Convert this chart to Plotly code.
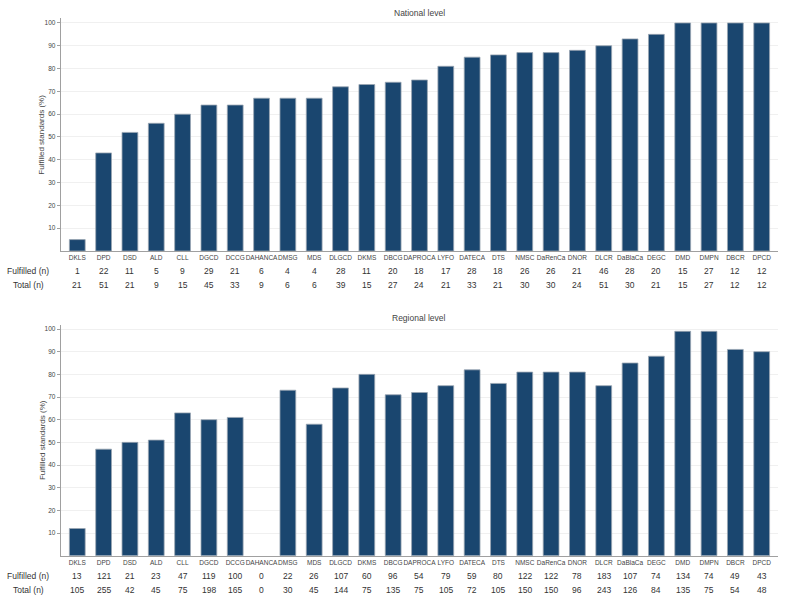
import plotly.graph_objects as go

categories = ["DKLS", "DPD", "DSD", "ALD", "CLL", "DGCD", "DCCG", "DAHANCA", "DMSG", "MDS",
              "DLGCD", "DKMS", "DBCG", "DAPROCA", "LYFO", "DATECA", "DTS", "NMSC", "DaRenCa",
              "DNOR", "DLCR", "DaBlaCa", "DEGC", "DMD", "DMPN", "DBCR", "DPCD"]

national_pct = [5, 43, 52, 56, 60, 64, 64, 67, 67, 67, 72, 73, 74, 75, 81, 85, 86, 87, 87,
                88, 90, 93, 95, 100, 100, 100, 100]
national_fulfilled = [1, 22, 11, 5, 9, 29, 21, 6, 4, 4, 28, 11, 20, 18, 17, 28, 18, 26, 26,
                      21, 46, 28, 20, 15, 27, 12, 12]
national_total = [21, 51, 21, 9, 15, 45, 33, 9, 6, 6, 39, 15, 27, 24, 21, 33, 21, 30, 30,
                  24, 51, 30, 21, 15, 27, 12, 12]

regional_pct = [12, 47, 50, 51, 63, 60, 61, 0, 73, 58, 74, 80, 71, 72, 75, 82, 76, 81, 81,
                81, 75, 85, 88, 99, 99, 91, 90]
regional_fulfilled = [13, 121, 21, 23, 47, 119, 100, 0, 22, 26, 107, 60, 96, 54, 79, 59, 80,
                      122, 122, 78, 183, 107, 74, 134, 74, 49, 43]
regional_total = [105, 255, 42, 45, 75, 198, 165, 0, 30, 45, 144, 75, 135, 75, 105, 72, 105,
                  150, 150, 96, 243, 126, 84, 135, 75, 54, 48]

yticks = [10, 20, 30, 40, 50, 60, 70, 80, 90, 100]

W, H = 792, 605
BAR = "#1a466f"
OUTLINE = "#9aa6b2"
FONT = "Liberation Sans, Arial, sans-serif"
TXT = "#444444"

def py(px):
    return (H - px) / H

def outline_widths(vals):
    return [0.8 if v > 0 else 0 for v in vals]

fig = go.Figure()
fig.add_trace(go.Bar(x=categories, y=national_pct, xaxis="x", yaxis="y",
                     marker=dict(color=BAR, line=dict(color=OUTLINE, width=outline_widths(national_pct))),
                     width=0.6, showlegend=False, hoverinfo="skip"))
fig.add_trace(go.Bar(x=categories, y=regional_pct, xaxis="x2", yaxis="y2",
                     marker=dict(color=BAR, line=dict(color=OUTLINE, width=outline_widths(regional_pct))),
                     width=0.6, showlegend=False, hoverinfo="skip"))

xdom = [60.7 / W, 778 / W]
axcommon = dict(showline=True, linecolor="#a0a0a0", linewidth=1, automargin=False)
xcommon = dict(axcommon, type="category", range=[-0.63, 26.62], ticks="", tickangle=0,
               tickfont=dict(size=6.5, color=TXT, family=FONT), domain=xdom,
               showgrid=False)
ycommon = dict(axcommon, range=[0, 102], tickvals=yticks, ticks="outside", ticklen=3,
               tickcolor="#a0a0a0", tickfont=dict(size=6.5, color=TXT, family=FONT),
               showgrid=True, gridcolor="#f0f0f0", gridwidth=1, zeroline=False)

nat_dom = [py(251), py(18.4)]
reg_dom = [py(555.7), py(324.5)]

fig.update_layout(
    width=W, height=H, margin=dict(l=0, r=0, t=0, b=0),
    plot_bgcolor="white", paper_bgcolor="white",
    xaxis=dict(xcommon, anchor="y"),
    yaxis=dict(ycommon, anchor="x", domain=nat_dom),
    xaxis2=dict(xcommon, anchor="y2"),
    yaxis2=dict(ycommon, anchor="x2", domain=reg_dom),
    font=dict(family=FONT),
)

ann = []
cx = (xdom[0] + xdom[1]) / 2
for text, ypx in [("National level", 13), ("Regional level", 318)]:
    ann.append(dict(text=text, x=cx, y=py(ypx), xref="paper", yref="paper",
                    xanchor="center", yanchor="middle", showarrow=False,
                    font=dict(size=8.5, color=TXT, family=FONT)))

for dom in (nat_dom, reg_dom):
    ann.append(dict(text="Fulfilled standards (%)", x=42 / W, y=(dom[0] + dom[1]) / 2,
                    xref="paper", yref="paper", xanchor="center", yanchor="middle",
                    textangle=-90, showarrow=False, font=dict(size=8, color=TXT, family=FONT)))

def rows(xref, fulfilled, total, yf, yt):
    out = []
    f8 = dict(size=8.5, color="#333", family=FONT)
    out.append(dict(text="Fulfilled (n)", x=5 / W, y=py(yf), xref="paper", yref="paper",
                    xanchor="left", yanchor="middle", showarrow=False, font=f8))
    out.append(dict(text="Total (n)", x=11 / W, y=py(yt), xref="paper", yref="paper",
                    xanchor="left", yanchor="middle", showarrow=False, font=f8))
    for c, f, t in zip(categories, fulfilled, total):
        out.append(dict(text=str(f), x=c, xref=xref, y=py(yf), yref="paper", showarrow=False,
                        xanchor="center", yanchor="middle", font=f8))
        out.append(dict(text=str(t), x=c, xref=xref, y=py(yt), yref="paper", showarrow=False,
                        xanchor="center", yanchor="middle", font=f8))
    return out

ann += rows("x", national_fulfilled, national_total, 271, 285)
ann += rows("x2", regional_fulfilled, regional_total, 576, 590)
fig.update_layout(annotations=ann)

fig.write_html("out.html", config={"displayModeBar": False},
               post_script="document.body.style.margin='0';")
